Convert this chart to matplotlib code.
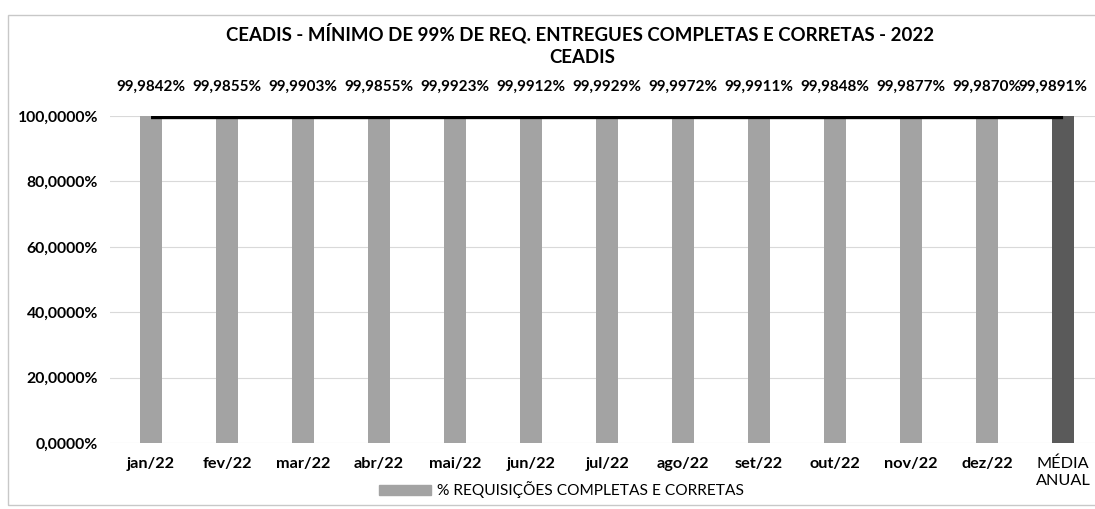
import matplotlib
matplotlib.use('Agg')
import matplotlib.pyplot as plt
from matplotlib.patches import Rectangle, Patch
from matplotlib.ticker import FuncFormatter

plt.rcParams['font.family'] = ['Lato', 'DejaVu Sans']

meses   = ['jan/22','fev/22','mar/22','abr/22','mai/22','jun/22','jul/22',
           'ago/22','set/22','out/22','nov/22','dez/22','MÉDIA\nANUAL']
valores = [99.9842, 99.9855, 99.9903, 99.9855, 99.9923, 99.9912, 99.9929,
           99.9972, 99.9911, 99.9848, 99.9877, 99.9870, 99.9891]
rotulos = ['99,9842%','99,9855%','99,9903%','99,9855%','99,9923%','99,9912%',
           '99,9929%','99,9972%','99,9911%','99,9848%','99,9877%','99,9870%','99,9891%']
yticks  = [0, 20, 40, 60, 80, 100]

cores = ['#a3a3a3'] * 12 + ['#5a5a5a']

fig = plt.figure(figsize=(10.95, 5.09), dpi=100)
fig.patches.append(Rectangle((8/1095, 4/509), 1.0, 490/509, transform=fig.transFigure,
                             fill=False, edgecolor='#c8c8c8', lw=1))
ax = fig.add_axes([110/1095, 66/509, 985/1095, 327/509])

x = list(range(len(meses)))
ax.bar(x, valores, width=0.30, color=cores, zorder=2)
ax.plot(x, valores, color='black', lw=4.5, zorder=3, solid_capstyle='butt')

ax.set_xlim(-0.54, 12.42)
ax.set_ylim(0, 100)
ax.set_yticks(yticks)
ax.yaxis.set_major_formatter(FuncFormatter(lambda v, p: f'{v:.4f}%'.replace('.', ',')))
ax.grid(axis='y', color='#d9d9d9', lw=0.8, zorder=0)
for s in ax.spines.values():
    s.set_visible(False)
ax.tick_params(length=0)
ax.tick_params(axis='y', labelsize=11.3, pad=8.5)
for t in ax.get_yticklabels():
    t.set_fontweight('bold')
ax.set_xticks(x)
ax.set_xticklabels(meses, fontsize=11.7)
for t in ax.get_xticklabels()[:-1]:
    t.set_fontweight('bold')
ax.tick_params(axis='x', pad=10)

# rótulos acima das barras (o último encostado à esquerda, como no original)
for i, (xi, lab) in enumerate(zip(x, rotulos)):
    dx = -7 if i == len(x) - 1 else 0
    ax.annotate(lab, (xi, 1.09), xycoords=ax.get_xaxis_transform(),
                xytext=(dx, 0), textcoords='offset points',
                ha='center', va='center', fontsize=11.0, fontweight='bold')

fig.text(0.530, 1 - 33/509, 'CEADIS - MÍNIMO DE 99% DE REQ. ENTREGUES COMPLETAS E CORRETAS - 2022',
         ha='center', va='center', fontsize=13.4, fontweight='bold')
fig.text(0.532, 1 - 58/509, 'CEADIS', ha='center', va='center', fontsize=13.4, fontweight='bold')

fig.legend(handles=[Patch(color='#a3a3a3', label='% REQUISIÇÕES COMPLETAS E CORRETAS')],
           loc='center', bbox_to_anchor=(0.513, 1 - 490/509), frameon=False,
           fontsize=11.2, handlelength=3.3, handleheight=0.6, handletextpad=0.4)

fig.savefig('out.png', dpi=100)
